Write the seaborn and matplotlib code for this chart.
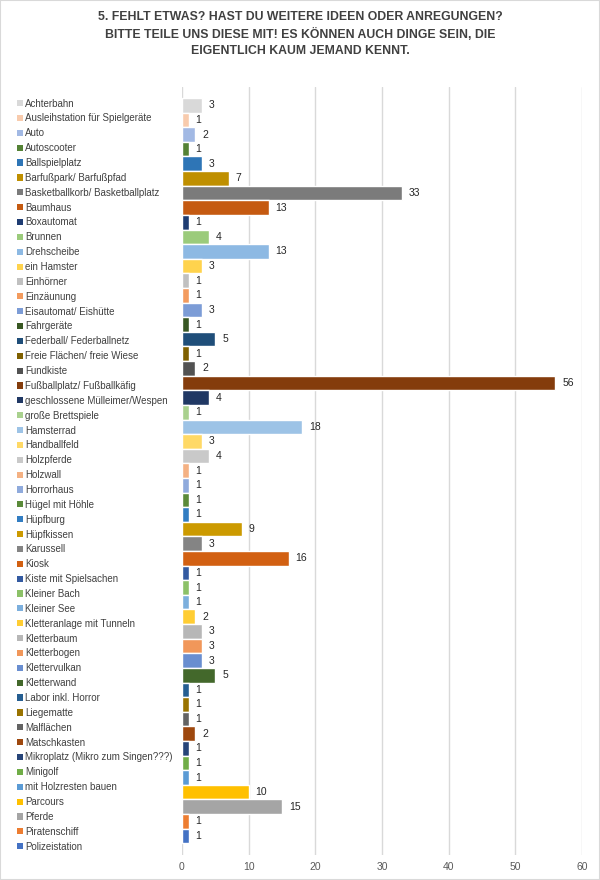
import matplotlib
matplotlib.use("Agg")
import matplotlib.pyplot as plt
from matplotlib.patches import Patch, Rectangle
import seaborn as sns

categories = [
    "Achterbahn", "Ausleihstation für Spielgeräte", "Auto", "Autoscooter",
    "Ballspielplatz", "Barfußpark/ Barfußpfad", "Basketballkorb/ Basketballplatz",
    "Baumhaus", "Boxautomat", "Brunnen", "Drehscheibe", "ein Hamster", "Einhörner",
    "Einzäunung", "Eisautomat/ Eishütte", "Fahrgeräte", "Federball/ Federballnetz",
    "Freie Flächen/ freie Wiese", "Fundkiste", "Fußballplatz/ Fußballkäfig",
    "geschlossene Mülleimer/Wespen", "große Brettspiele", "Hamsterrad",
    "Handballfeld", "Holzpferde", "Holzwall", "Horrorhaus", "Hügel mit Höhle",
    "Hüpfburg", "Hüpfkissen", "Karussell", "Kiosk", "Kiste mit Spielsachen",
    "Kleiner Bach", "Kleiner See", "Kletteranlage mit Tunneln", "Kletterbaum",
    "Kletterbogen", "Klettervulkan", "Kletterwand", "Labor inkl. Horror",
    "Liegematte", "Malflächen", "Matschkasten", "Mikroplatz (Mikro zum Singen???)",
    "Minigolf", "mit Holzresten bauen", "Parcours", "Pferde", "Piratenschiff",
    "Polizeistation",
]

counts = [
    3, 1, 2, 1, 3, 7, 33, 13, 1, 4, 13, 3, 1, 1, 3, 1, 5, 1, 2, 56, 4, 1, 18,
    3, 4, 1, 1, 1, 1, 9, 3, 16, 1, 1, 1, 2, 3, 3, 3, 5, 1, 1, 1, 2, 1, 1, 1,
    10, 15, 1, 1,
]

# Excel-style series colours, top to bottom
colors = [
    "#D9D9D9", "#F8CBAD", "#A2B9E4", "#548235", "#2E75B6", "#BF8F00",
    "#7B7B7B", "#C55A11", "#1E3C72", "#9BCB7B", "#8DB9E3", "#FFD34D",
    "#C0C0C0", "#F39B5E", "#7C9CD6", "#385723", "#1F4E79", "#7F6000",
    "#525252", "#843C0C", "#203864", "#A9D18E", "#9DC3E6", "#FFD966",
    "#C9C9C9", "#F4B183", "#8FAADC", "#5A8A39", "#327DC2", "#CC9A00",
    "#848484", "#D26012", "#335AA1", "#8CC168", "#7CAFDD", "#FFCD33",
    "#B7B7B7", "#F1975A", "#698ED0", "#43682B", "#255E91", "#997300",
    "#636363", "#9E480E", "#264478", "#70AD47", "#5B9BD5", "#FFC000",
    "#A5A5A5", "#ED7D31", "#4472C4",
]

title = ("5. FEHLT ETWAS? HAST DU WEITERE IDEEN ODER ANREGUNGEN?\n"
         "BITTE TEILE UNS DIESE MIT! ES KÖNNEN AUCH DINGE SEIN, DIE\n"
         "EIGENTLICH KAUM JEMAND KENNT.")

sns.set_style("white")
plt.rcParams["font.family"] = ["Liberation Sans", "DejaVu Sans"]

fig = plt.figure(figsize=(6, 8.8), dpi=100)
ax = fig.add_axes([0.3033, 0.0284, 0.6667, 0.8727])

sns.barplot(x=counts, y=categories, hue=categories, palette=colors,
            dodge=False, width=1.0, saturation=1, legend=False, ax=ax)

for cont in ax.containers:
    ax.bar_label(cont, padding=5, fontsize=7.5, color="#262626")

ax.set_xlim(0, 60)
ax.set_xticks(range(0, 61, 10))
ax.set_ylim(len(categories) - 0.5 + 0.8, -0.5 - 0.75)
ax.set_yticks([])
ax.set_xlabel("")
ax.set_ylabel("")
ax.grid(axis="x", color="#D9D9D9", linewidth=1)
ax.set_axisbelow(True)
for s in ax.spines.values():
    s.set_visible(False)
ax.tick_params(axis="x", length=0, pad=5, labelsize=7.5, labelcolor="#595959")

handles = [Patch(facecolor=c, edgecolor="none") for c in colors]
ax.legend(handles, categories, loc="upper left",
          bbox_to_anchor=(0.028, 0.888), bbox_transform=fig.transFigure,
          frameon=False, fontsize=7, labelcolor="#404040",
          handlelength=0.6, handleheight=0.6, handletextpad=0.25,
          labelspacing=0.5, borderpad=0, borderaxespad=0)

fig.text(0.5, 0.988, title, ha="center", va="top", fontsize=8.8,
         fontweight="bold", color="#404040", linespacing=1.5)

fig.patches.append(Rectangle((0, 0), 1, 1, transform=fig.transFigure,
                             fill=False, edgecolor="#D9D9D9", linewidth=1.5))

fig.savefig("out.png", dpi=100)
